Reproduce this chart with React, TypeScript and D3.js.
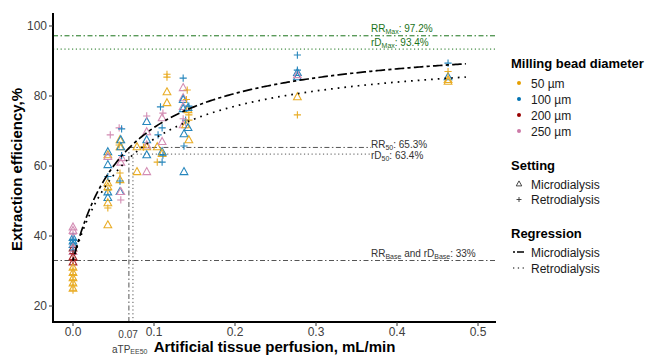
import React from "react";
import * as d3 from "d3";

// ---------- data ----------
const beadLabels = ["50 µm", "100 µm", "200 µm", "250 µm"];
const beadColors = ["#E69F00", "#0072B2", "#990000", "#CC79A7"];
const settingLabels = ["Microdialysis", "Retrodialysis"];

const xTicks = [0, 0.1, 0.2, 0.3, 0.4, 0.5];
const yTicks = [20, 40, 60, 80, 100];

// [x (mL/min), efficiency %, bead index]
const microPoints: [number, number, number][] = [
  [0, 42.5, 3], [0, 41.5, 3], [0, 39.5, 1], [0, 38.5, 1], [0, 37.5, 1], [0, 36.5, 2],
  [0, 35.5, 3], [0, 34, 2], [0, 32.5, 2], [0, 31, 0], [0, 29.5, 0], [0, 28, 0],
  [0, 26.5, 0], [0, 25, 0],
  [0.043, 64, 1], [0.043, 63.1, 0], [0.043, 62.6, 3], [0.043, 60.3, 1], [0.043, 55.1, 0],
  [0.043, 54, 0], [0.043, 52.5, 1], [0.043, 50.9, 1], [0.043, 49.4, 0], [0.043, 43.1, 0],
  [0.058, 67.4, 0], [0.059, 67.4, 1], [0.058, 65.4, 0], [0.059, 65.4, 1], [0.060, 62.3, 3],
  [0.059, 61, 3], [0.058, 56, 0], [0.058, 52.6, 1], [0.059, 52.6, 3],
  [0.079, 65.4, 0], [0.091, 65.4, 0], [0.079, 58.3, 0], [0.091, 58.3, 3], [0.091, 72.6, 1],
  [0.091, 69.7, 3], [0.091, 67.4, 1], [0.091, 65.9, 3], [0.091, 63.1, 1], [0.104, 65.4, 0],
  [0.110, 73.7, 3], [0.110, 66.9, 3], [0.110, 64, 1], [0.110, 63.5, 0], [0.116, 81.1, 0],
  [0.116, 78, 0],
  [0.136, 82.3, 3], [0.136, 79.4, 3], [0.136, 78.9, 1], [0.136, 76.9, 3], [0.136, 76.3, 1],
  [0.142, 76, 0], [0.142, 76.6, 1], [0.136, 71.7, 3], [0.139, 71.7, 0], [0.142, 70.9, 1],
  [0.137, 69.1, 1], [0.143, 67.4, 0], [0.137, 58.3, 1],
  [0.277, 86.6, 1], [0.277, 85.4, 1], [0.277, 86, 3], [0.277, 79.7, 0],
  [0.463, 85.4, 1], [0.463, 84.6, 0], [0.463, 84.1, 0],
];

const retroPoints: [number, number, number][] = [
  [0, 40.5, 3], [0, 39, 1], [0, 38, 1], [0, 37, 3], [0, 36, 1], [0, 35, 2], [0, 33, 2],
  [0, 30.5, 0], [0, 29, 0], [0, 27.5, 0], [0, 26, 0], [0, 24.5, 0],
  [0.046, 68.9, 3], [0.057, 70.9, 3], [0.060, 70.6, 1], [0.043, 48, 0], [0.043, 53.1, 0],
  [0.043, 57, 1], [0.058, 55.7, 1], [0.059, 50.3, 3], [0.058, 58, 0], [0.057, 66, 0],
  [0.060, 63, 1],
  [0.116, 85.4, 0], [0.116, 86.2, 0], [0.108, 76.9, 1], [0.091, 74.3, 3], [0.111, 75.1, 3],
  [0.110, 70.9, 1], [0.105, 68.9, 1], [0.111, 63.1, 1], [0.104, 61.1, 0], [0.110, 61.1, 1],
  [0.087, 65.4, 0],
  [0.136, 85.1, 1], [0.141, 81.7, 0], [0.143, 77.1, 1], [0.139, 73.1, 1], [0.143, 73.1, 0],
  [0.143, 74.6, 0], [0.137, 65.7, 1], [0.136, 73.5, 3], [0.140, 79, 0],
  [0.277, 91.7, 1], [0.277, 87.4, 1], [0.277, 74.6, 0],
  [0.463, 89.4, 1], [0.463, 87, 0],
];

// Emax regression parameters: [E0, Emax, EC50]
const microModel = [33, 97.2, 0.069];
const retroModel = [33, 93.4, 0.074];
const curveEndX = 0.485;

// ---------- layout ----------
const W = 651;
const H = 356;
const panel = { left: 53, right: 496, top: 13, bottom: 322 };
const FONT = "'Liberation Sans', Arial, sans-serif";

export default function App() {
  const x = d3.scaleLinear().domain([-0.0247, 0.5222]).range([panel.left, panel.right]);
  const y = d3.scaleLinear().domain([15.43, 103.71]).range([panel.bottom, panel.top]);

  const emax = (p: number[]) => (v: number) => p[0] + ((p[1] - p[0]) * v) / (p[2] + v);
  const xs = d3.range(0, curveEndX + 1e-9, 0.0025);
  const line = d3
    .line<number>()
    .x((d) => x(d))
    .curve(d3.curveLinear);
  const microPath = line.y((d) => y(emax(microModel)(d)))(xs) || "";
  const retroPath = line.y((d) => y(emax(retroModel)(d)))(xs) || "";

  const tri = (cx: number, cy: number, s: number) =>
    `M${cx},${cy - s * 0.62}L${cx + s * 0.55},${cy + s * 0.38}L${cx - s * 0.55},${cy + s * 0.38}Z`;
  const plus = (cx: number, cy: number, s: number) =>
    `M${cx - s},${cy}H${cx + s}M${cx},${cy - s}V${cy + s}`;

  const grey = "#555555";
  const green = "#1A731A";
  const labelX = 371;

  const rrMaxY = y(microModel[1]);
  const rdMaxY = y(retroModel[1]);
  const rr50 = (microModel[0] + microModel[1]) / 2 + 0.2;
  const rd50 = (retroModel[0] + retroModel[1]) / 2 + 0.2;
  const baseY = y(microModel[0]);

  const legX = 511;

  return (
    <div style={{ position: "absolute", left: 0, top: 0 }}>
      <svg width={W} height={H} style={{ display: "block", fontFamily: FONT }}>
        <rect width={W} height={H} fill="white" />

        {/* reference lines */}
        <line x1={panel.left} x2={panel.right} y1={rrMaxY} y2={rrMaxY} stroke={green} strokeWidth={1} strokeDasharray="5,2.5,1.5,2.5" />
        <line x1={panel.left} x2={panel.right} y1={rdMaxY} y2={rdMaxY} stroke={green} strokeWidth={1} strokeDasharray="1.2,2.6" />
        <line x1={panel.left} x2={panel.right} y1={baseY} y2={baseY} stroke={grey} strokeWidth={1} strokeDasharray="5,2.5,1.5,2.5" />
        <line x1={x(microModel[2])} x2={labelX} y1={y(rr50)} y2={y(rr50)} stroke={grey} strokeWidth={1} strokeDasharray="5,2.5,1.5,2.5" />
        <line x1={x(retroModel[2])} x2={labelX} y1={y(rd50)} y2={y(rd50)} stroke={grey} strokeWidth={1} strokeDasharray="1.2,2.6" />
        <line x1={x(microModel[2])} x2={x(microModel[2])} y1={panel.bottom} y2={y(rr50)} stroke={grey} strokeWidth={1} strokeDasharray="5,2.5,1.5,2.5" />
        <line x1={x(retroModel[2])} x2={x(retroModel[2])} y1={panel.bottom} y2={y(rd50)} stroke={grey} strokeWidth={1} strokeDasharray="1.2,2.6" />

        {/* points */}
        <g fill="none" strokeWidth={1.1} opacity={0.85}>
          {microPoints.map((p, i) => (
            <path key={"m" + i} d={tri(x(p[0]), y(p[1]), 7)} stroke={beadColors[p[2]]} />
          ))}
          {retroPoints.map((p, i) => (
            <path key={"r" + i} d={plus(x(p[0]), y(p[1]), 3.6)} stroke={beadColors[p[2]]} />
          ))}
        </g>

        {/* regression curves */}
        <path d={microPath} fill="none" stroke="black" strokeWidth={1.7} strokeDasharray="3.2,3.2,9.6,3.2" />
        <path d={retroPath} fill="none" stroke="black" strokeWidth={1.7} strokeDasharray="1.7,5" />

        {/* annotation labels */}
        <g fontSize={10}>
          <text x={labelX} y={rrMaxY - 3.5} fill={green}>
            RR<tspan fontSize={7} dy={2}>Max</tspan>
            <tspan dy={-2}>: 97.2%</tspan>
          </text>
          <text x={labelX} y={rdMaxY - 3.5} fill={green}>
            rD<tspan fontSize={7} dy={2}>Max</tspan>
            <tspan dy={-2}>: 93.4%</tspan>
          </text>
          <text x={labelX} y={y(rr50) + 0.5} fill="#333">
            RR<tspan fontSize={7} dy={2}>50</tspan>
            <tspan dy={-2}>: 65.3%</tspan>
          </text>
          <text x={labelX} y={y(rd50) + 4.5} fill="#333">
            rD<tspan fontSize={7} dy={2}>50</tspan>
            <tspan dy={-2}>: 63.4%</tspan>
          </text>
          <text x={labelX} y={baseY - 4} fill="#333">
            RR<tspan fontSize={7} dy={2}>Base</tspan>
            <tspan dy={-2}> and rD</tspan>
            <tspan fontSize={7} dy={2}>Base</tspan>
            <tspan dy={-2}>: 33%</tspan>
          </text>
        </g>

        {/* axes */}
        <line x1={panel.left} x2={panel.left} y1={panel.top} y2={panel.bottom + 1} stroke="black" strokeWidth={2} />
        <line x1={panel.left - 1} x2={panel.right} y1={panel.bottom} y2={panel.bottom} stroke="black" strokeWidth={2} />
        {yTicks.map((t) => (
          <g key={"y" + t}>
            <line x1={panel.left - 4} x2={panel.left} y1={y(t)} y2={y(t)} stroke="#333" strokeWidth={1} />
            <text x={panel.left - 6} y={y(t) + 4} textAnchor="end" fontSize={12} fill="#404040">
              {t}
            </text>
          </g>
        ))}
        {xTicks.map((t) => (
          <g key={"x" + t}>
            <line x1={x(t)} x2={x(t)} y1={panel.bottom} y2={panel.bottom + 4} stroke="#333" strokeWidth={1} />
            <text x={x(t)} y={panel.bottom + 14} textAnchor="middle" fontSize={12} fill="#404040">
              {d3.format(".1f")(t)}
            </text>
          </g>
        ))}
        <text x={x(0.068)} y={panel.bottom + 15.5} textAnchor="middle" fontSize={10} fill="#404040">
          0.07
        </text>
        <text x={112} y={352.5} fontSize={10} fill="#404040">
          aTP<tspan fontSize={7} dy={1.5}>EE50</tspan>
        </text>

        <text x={(panel.left + panel.right) / 2} y={351.5} textAnchor="middle" fontSize={15} fontWeight="bold">
          Artificial tissue perfusion, mL/min
        </text>
        <text
          transform={`translate(22,${(panel.top + panel.bottom) / 2 + 2}) rotate(-90)`}
          textAnchor="middle"
          fontSize={15}
          fontWeight="bold"
        >
          Extraction efficiency,%
        </text>

        {/* legend */}
        <text x={legX} y={68} fontSize={13} fontWeight="bold">Milling bead diameter</text>
        {beadLabels.map((b, i) => (
          <g key={b}>
            <circle cx={519} cy={83 + i * 16} r={2} fill={beadColors[i]} />
            <text x={531} y={87.5 + i * 16} fontSize={12} fill="#1a1a1a">{b}</text>
          </g>
        ))}
        <text x={legX} y={170} fontSize={13} fontWeight="bold">Setting</text>
        <path d={tri(519, 184, 5)} fill="none" stroke="#333" strokeWidth={0.9} />
        <text x={531} y={188.5} fontSize={12} fill="#1a1a1a">{settingLabels[0]}</text>
        <path d={plus(519, 199.5, 2.5)} fill="none" stroke="#333" strokeWidth={0.9} />
        <text x={531} y={204} fontSize={12} fill="#1a1a1a">{settingLabels[1]}</text>

        <text x={legX} y={238} fontSize={13} fontWeight="bold">Regression</text>
        <line x1={513} x2={526} y1={252} y2={252} stroke="black" strokeWidth={1.5} strokeDasharray="2,2,7,2" />
        <text x={531} y={256.5} fontSize={12} fill="#1a1a1a">{settingLabels[0]}</text>
        <line x1={513} x2={526} y1={268} y2={268} stroke="#555" strokeWidth={1.3} strokeDasharray="1.3,3.5" />
        <text x={531} y={272.5} fontSize={12} fill="#1a1a1a">{settingLabels[1]}</text>
      </svg>
    </div>
  );
}
